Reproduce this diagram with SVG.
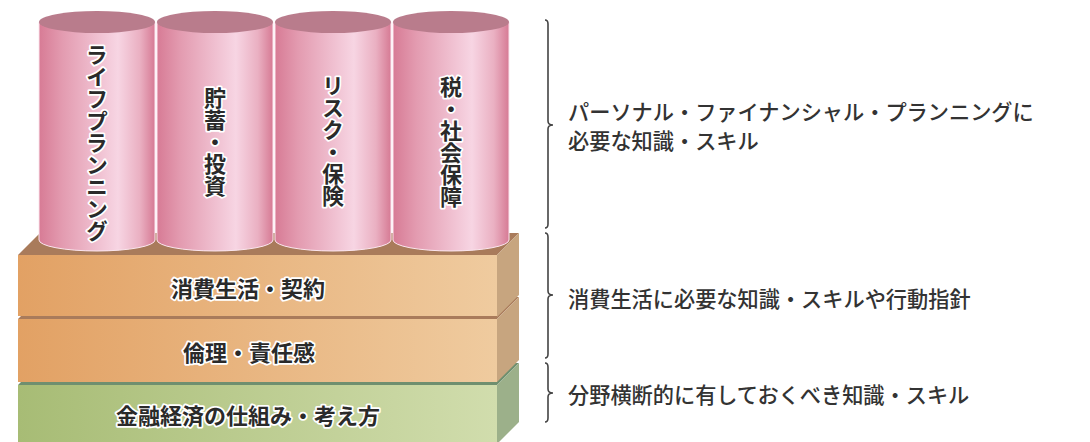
<svg xmlns="http://www.w3.org/2000/svg" width="1090" height="442" viewBox="0 0 1090 442">
<defs>
<linearGradient id="cyl" x1="0" y1="0" x2="1" y2="0">
<stop offset="0" stop-color="#d77b95"/>
<stop offset="0.2" stop-color="#e39bb0"/>
<stop offset="0.68" stop-color="#f7d5e3"/>
<stop offset="0.87" stop-color="#eab0c2"/>
<stop offset="1" stop-color="#d67a94"/>
</linearGradient>
<linearGradient id="org" x1="0" y1="0" x2="1" y2="0">
<stop offset="0" stop-color="#e2a164"/>
<stop offset="1" stop-color="#efcb9f"/>
</linearGradient>
<linearGradient id="grn" x1="0" y1="0" x2="1" y2="0">
<stop offset="0" stop-color="#a7bc75"/>
<stop offset="1" stop-color="#d1ddad"/>
</linearGradient>
<style>
.lbl{font-family:'Noto Sans CJK JP','Noto Sans CJK SC',sans-serif;font-weight:bold;font-size:22px;fill:#2a2a2a;stroke:#fff;stroke-width:3.5px;stroke-linejoin:round;paint-order:stroke;}
.vt{writing-mode:vertical-rl;text-anchor:middle;}
.ht{text-anchor:middle;dominant-baseline:central;}
.desc{font-family:'Noto Sans CJK JP','Noto Sans CJK SC',sans-serif;font-weight:500;font-size:21.2px;fill:#333;dominant-baseline:central;}
.body{fill:url(#cyl);stroke:#fbe6ee;stroke-width:1;}
.cap{fill:#b97c8c;}
.otop{fill:#a97b5b;}
.oside{fill:#c7a57f;}
.gtop{fill:#6f8f6f;}
.gside{fill:#9cb08a;}
.brace{fill:none;stroke:#444;stroke-width:1.6;}
</style>
</defs>
<rect width="1090" height="442" fill="#fff"/>

<g id="layer-base">
<polygon class="gtop" points="18,385 40,363 519,363 497,385"/>
<polygon class="gside" points="497,385 519,363 519,422 497,444"/>
<rect x="18" y="385" width="479" height="60" fill="url(#grn)"/>
<text class="lbl ht" x="248" y="414">金融経済の仕組み・考え方</text>
</g>

<g id="layer-ethics">
<polygon class="otop" points="18,319 40,297 519,297 497,319"/>
<polygon class="oside" points="497,319 519,297 519,360 497,382"/>
<rect x="18" y="319" width="479" height="63" fill="url(#org)"/>
<text class="lbl ht" x="249" y="351">倫理・責任感</text>
</g>

<g id="layer-consumer">
<polygon class="otop" points="18,255 40,233 519,233 497,255"/>
<polygon class="oside" points="497,255 519,233 519,295 497,317"/>
<rect x="18" y="255" width="479" height="61" fill="url(#org)"/>
<text class="lbl ht" x="248" y="287">消費生活・契約</text>
</g>

<g id="pillar-life">
<path class="body" d="M39,22 V240 A58,11 0 0 0 155,240 V22 Z"/>
<ellipse class="cap" cx="97" cy="22" rx="58" ry="11"/>
<text class="lbl vt" x="97" y="143">ライフプランニング</text>
</g>
<g id="pillar-savings">
<path class="body" d="M157,22 V240 A58,11 0 0 0 273,240 V22 Z"/>
<ellipse class="cap" cx="215" cy="22" rx="58" ry="11"/>
<text class="lbl vt" x="215" y="142">貯蓄・投資</text>
</g>
<g id="pillar-risk">
<path class="body" d="M275,22 V240 A58,11 0 0 0 391,240 V22 Z"/>
<ellipse class="cap" cx="333" cy="22" rx="58" ry="11"/>
<text class="lbl vt" x="333" y="141">リスク・保険</text>
</g>
<g id="pillar-tax">
<path class="body" d="M393,22 V240 A58,11 0 0 0 509,240 V22 Z"/>
<ellipse class="cap" cx="451" cy="22" rx="58" ry="11"/>
<text class="lbl vt" x="451" y="142">税・社会保障</text>
</g>

<g id="connectors">
<path class="brace" d="M545,20 Q548,20 548,24 V121 Q548,125 553,125 Q548,125 548,129 V224 Q548,228 545,228"/>
<path class="brace" d="M545,233 Q548,233 548,237 V291 Q548,295 553,295 Q548,295 548,299 V354 Q548,358 545,358"/>
<path class="brace" d="M545,363 Q548,363 548,367 V389 Q548,393 553,393 Q548,393 548,397 V418 Q548,422 545,422"/>
</g>

<g id="desc-top">
<text class="desc" x="568" y="110">パーソナル・ファイナンシャル・プランニングに</text>
<text class="desc" x="568" y="139">必要な知識・スキル</text>
</g>
<g id="desc-mid">
<text class="desc" x="568" y="297">消費生活に必要な知識・スキルや行動指針</text>
</g>
<g id="desc-bottom">
<text class="desc" x="568" y="393">分野横断的に有しておくべき知識・スキル</text>
</g>
</svg>
